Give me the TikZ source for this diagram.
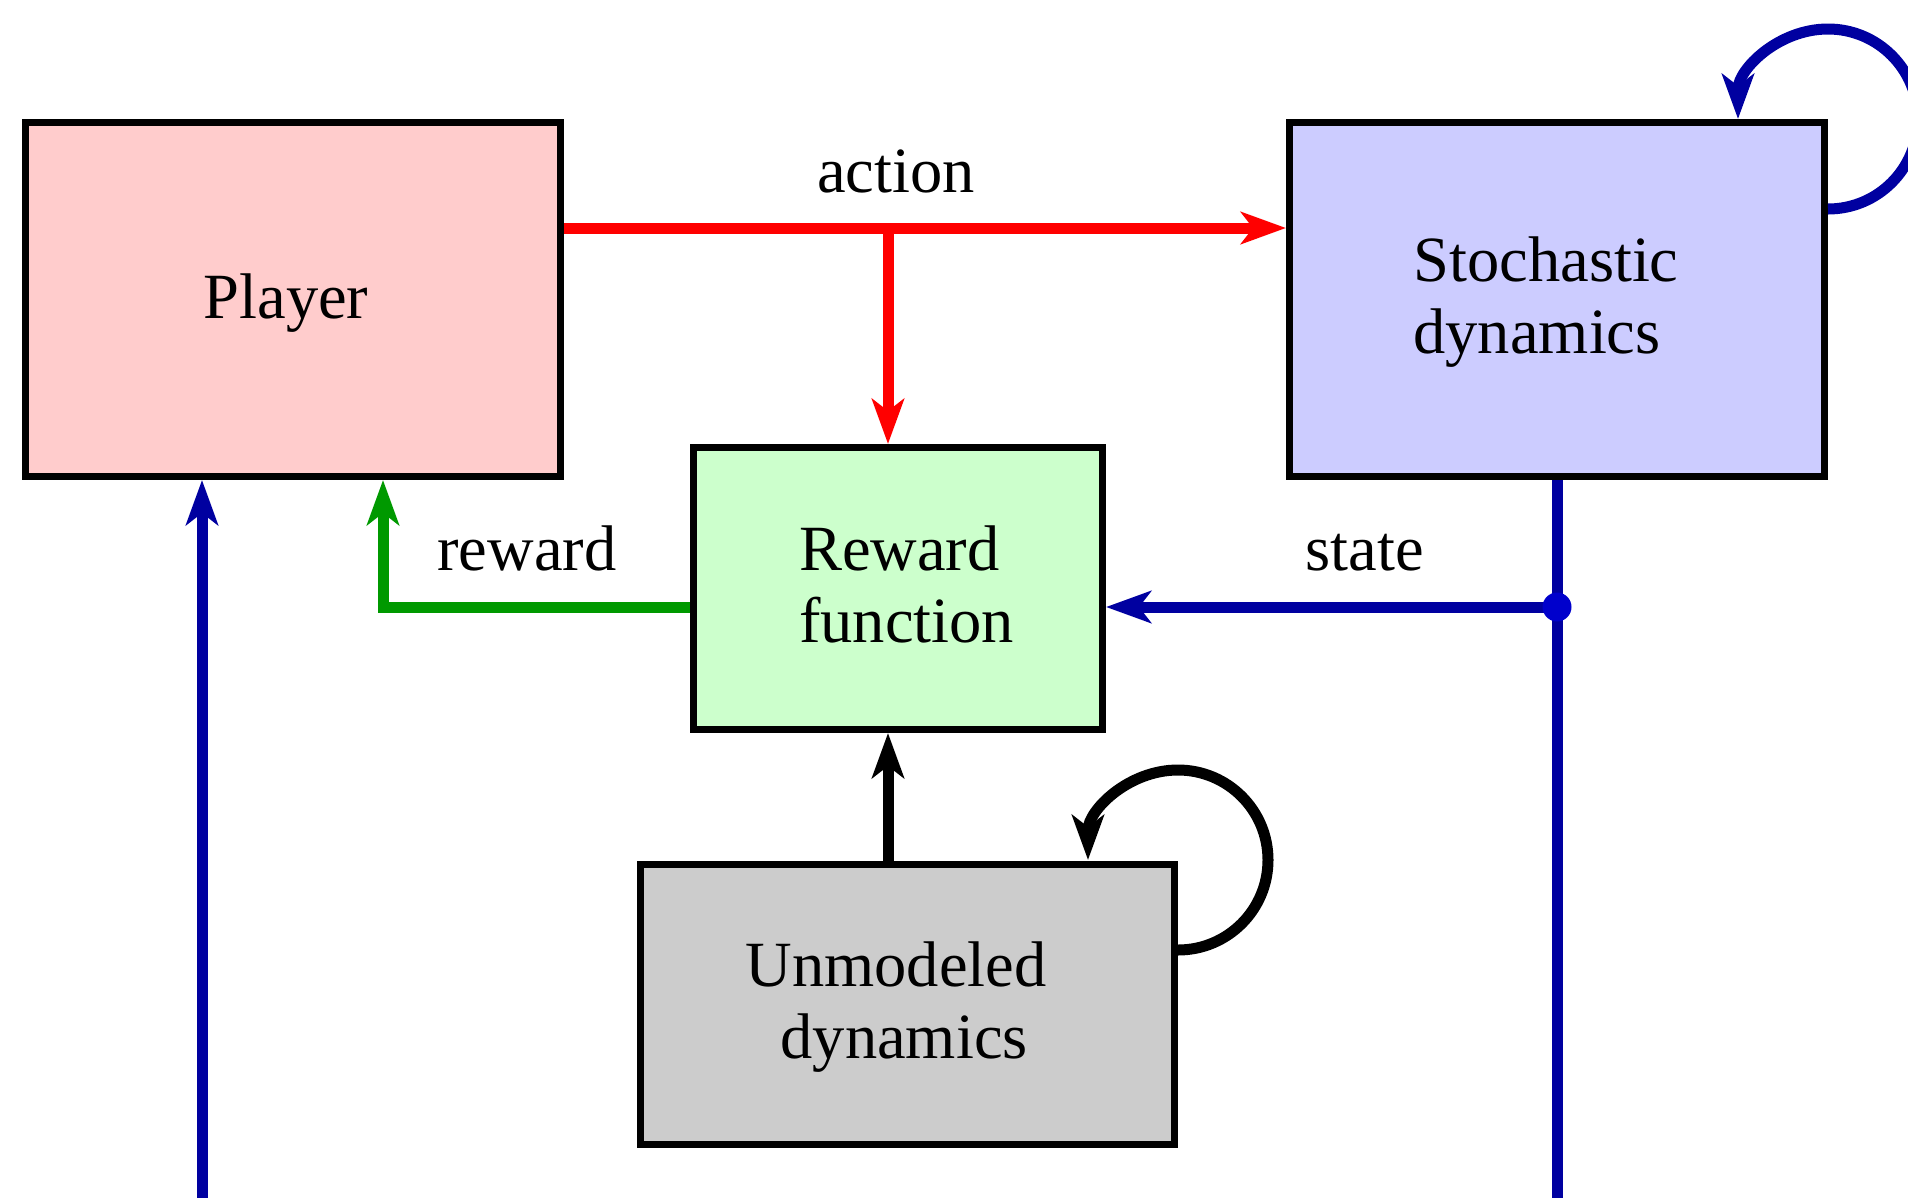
\documentclass[tikz,border=0pt]{standalone}
\usepackage{fontspec}
\setmainfont{Liberation Serif}
\usetikzlibrary{arrows.meta,calc}

\definecolor{playerfill}{RGB}{255,204,204}
\definecolor{stochfill}{RGB}{204,204,255}
\definecolor{rewardfill}{RGB}{204,255,204}
\definecolor{unmodfill}{RGB}{204,204,204}
\definecolor{actred}{RGB}{255,0,0}
\definecolor{rewgreen}{RGB}{0,153,0}
\definecolor{statblue}{RGB}{0,0,160}
\definecolor{dotblue}{RGB}{0,0,204}

\begin{document}
\begin{tikzpicture}[x=1pt,y=-1pt,
  bigfont/.style={font=\fontsize{64.5}{72}\selectfont},
  block/.style={draw=black, line width=7pt, inner sep=0pt},
  blocktext/.style={inner sep=0pt, bigfont, align=left},
  wire/.style={line width=11pt, -{Stealth[length=45pt,width=32pt,inset=12pt]}},
  lbl/.style={inner sep=0pt, anchor=base, bigfont},
]
\useasboundingbox (0,0) rectangle (1908,1197);
\clip (0,0) rectangle (1908,1197);

% blocks
\node[block, fill=playerfill, minimum width=535pt, minimum height=354pt]
  (player) at (293,299.5) {};
\node[block, fill=stochfill, minimum width=535pt, minimum height=354pt]
  (stoch) at (1557,299.5) {};
\node[block, fill=rewardfill, minimum width=409pt, minimum height=282pt]
  (reward) at (898,588.5) {};
\node[block, fill=unmodfill, minimum width=534pt, minimum height=280pt]
  (unmod) at (907.5,1004.5) {};

% block captions
\node[blocktext] (player-txt) at ($(player.center)+(-7,4)$) {Player};
\node[blocktext] (stoch-txt) at ($(stoch.center)+(-11,3)$) {Stochastic\\dynamics};
\node[blocktext] (reward-txt) at ($(reward.center)+(8.5,-4)$) {Reward\\function};
\node[blocktext] (unmod-txt) at ($(unmod.center)+(-11.5,2.5)$) {Unmodeled\\\hspace*{35pt}dynamics};

% helper points
\coordinate (acty) at (0,228);
\coordinate (split) at (888,228);
\coordinate (sigy) at (0,607);
\coordinate (gx) at (383,0);
\coordinate (dot) at (1557,607);
\coordinate (leftbot) at (202,1215);
\coordinate (stochbot) at (1557,1215);
\coordinate (sloopy) at (0,209);
\coordinate (uloopy) at (0,950);

% action
\draw[wire, actred] (player.east |- acty) -- (stoch.west |- acty);
\draw[wire, actred] (split) -- (split |- reward.north);

% reward
\draw[wire, rewgreen] (reward.west |- sigy) -| (gx |- player.south);

% state
\draw[line width=11pt, statblue] (stoch.south) -- (stochbot);
\draw[wire, statblue] (dot) -- (reward.east |- dot);
\draw[wire, statblue] (leftbot) -- (leftbot |- player.south);
\fill[dotblue] (dot) circle[radius=14.5pt];

% unmodeled influence
\draw[wire, black] (split |- unmod.north) -- (split |- reward.south);

% self loops
\draw[wire, statblue] (stoch.east |- sloopy) arc[start angle=-90, end angle=180, radius=90pt];
\draw[wire, black] (unmod.east |- uloopy) arc[start angle=-90, end angle=180, radius=90pt];

% labels
\node[lbl] (actlbl) at (896,192) {action};
\node[lbl] (rewlbl) at (527,570) {reward};
\node[lbl] (statelbl) at (1364.5,570) {state};
\end{tikzpicture}
\end{document}
